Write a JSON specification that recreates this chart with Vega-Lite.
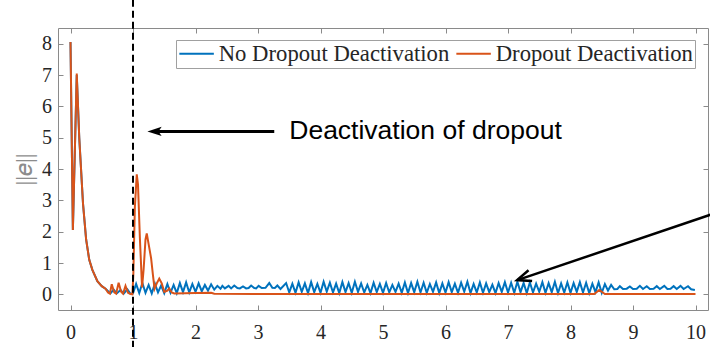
{
  "$schema": "https://vega.github.io/schema/vega-lite/v6.json",
  "width": 650,
  "height": 282,
  "autosize": {"type": "none"},
  "padding": {"left": 58, "top": 28, "right": 2, "bottom": 37},
  "background": "white",
  "config": {
    "view": {"stroke": null},
    "axis": {
      "grid": false,
      "domainColor": "#8a8a8a",
      "tickColor": "#8a8a8a",
      "domainWidth": 1,
      "tickWidth": 1,
      "tickSize": -5,
      "labelFont": "Liberation Serif",
      "labelFontSize": 20,
      "labelColor": "#262626"
    },
    "axisTop": {"labels": false, "title": null},
    "axisRight": {"labels": false, "title": null}
  },
  "datasets": {
    "err": [
      {"t": 0, "v": 8.05, "s": "No Dropout Deactivation"},
      {"t": 0.038, "v": 2.05, "s": "No Dropout Deactivation"},
      {"t": 0.1, "v": 7.0, "s": "No Dropout Deactivation"},
      {"t": 0.14, "v": 5.0, "s": "No Dropout Deactivation"},
      {"t": 0.2, "v": 2.9, "s": "No Dropout Deactivation"},
      {"t": 0.25, "v": 1.75, "s": "No Dropout Deactivation"},
      {"t": 0.3, "v": 1.1, "s": "No Dropout Deactivation"},
      {"t": 0.35, "v": 0.78, "s": "No Dropout Deactivation"},
      {"t": 0.43, "v": 0.42, "s": "No Dropout Deactivation"},
      {"t": 0.5, "v": 0.26, "s": "No Dropout Deactivation"},
      {"t": 0.56, "v": 0.18, "s": "No Dropout Deactivation"},
      {"t": 0.59, "v": 0.12, "s": "No Dropout Deactivation"},
      {"t": 0.64, "v": 0.03, "s": "No Dropout Deactivation"},
      {"t": 0.69, "v": 0.15, "s": "No Dropout Deactivation"},
      {"t": 0.74, "v": 0.03, "s": "No Dropout Deactivation"},
      {"t": 0.8, "v": 0.14, "s": "No Dropout Deactivation"},
      {"t": 0.85, "v": 0.02, "s": "No Dropout Deactivation"},
      {"t": 0.91, "v": 0.16, "s": "No Dropout Deactivation"},
      {"t": 0.96, "v": 0.02, "s": "No Dropout Deactivation"},
      {"t": 1.0, "v": 0.03, "s": "No Dropout Deactivation"},
      {"t": 1.05, "v": 0.33, "s": "No Dropout Deactivation"},
      {"t": 1.1, "v": 0.04, "s": "No Dropout Deactivation"},
      {"t": 1.15, "v": 0.36, "s": "No Dropout Deactivation"},
      {"t": 1.2, "v": 0.05, "s": "No Dropout Deactivation"},
      {"t": 1.25, "v": 0.3, "s": "No Dropout Deactivation"},
      {"t": 1.3, "v": 0.03, "s": "No Dropout Deactivation"},
      {"t": 1.35, "v": 0.34, "s": "No Dropout Deactivation"},
      {"t": 1.4, "v": 0.06, "s": "No Dropout Deactivation"},
      {"t": 1.45, "v": 0.28, "s": "No Dropout Deactivation"},
      {"t": 1.5, "v": 0.04, "s": "No Dropout Deactivation"},
      {"t": 1.55, "v": 0.33, "s": "No Dropout Deactivation"},
      {"t": 1.6, "v": 0.05, "s": "No Dropout Deactivation"},
      {"t": 1.65, "v": 0.3, "s": "No Dropout Deactivation"},
      {"t": 1.7, "v": 0.04, "s": "No Dropout Deactivation"},
      {"t": 1.75, "v": 0.36, "s": "No Dropout Deactivation"},
      {"t": 1.8, "v": 0.07, "s": "No Dropout Deactivation"},
      {"t": 1.85, "v": 0.38, "s": "No Dropout Deactivation"},
      {"t": 1.9, "v": 0.06, "s": "No Dropout Deactivation"},
      {"t": 1.95, "v": 0.33, "s": "No Dropout Deactivation"},
      {"t": 2.0, "v": 0.08, "s": "No Dropout Deactivation"},
      {"t": 2.05, "v": 0.35, "s": "No Dropout Deactivation"},
      {"t": 2.1, "v": 0.1, "s": "No Dropout Deactivation"},
      {"t": 2.15, "v": 0.3, "s": "No Dropout Deactivation"},
      {"t": 2.2, "v": 0.12, "s": "No Dropout Deactivation"},
      {"t": 2.25, "v": 0.32, "s": "No Dropout Deactivation"},
      {"t": 2.3, "v": 0.15, "s": "No Dropout Deactivation"},
      {"t": 2.35, "v": 0.27, "s": "No Dropout Deactivation"},
      {"t": 2.4, "v": 0.18, "s": "No Dropout Deactivation"},
      {"t": 2.43, "v": 0.27, "s": "No Dropout Deactivation"},
      {"t": 2.47, "v": 0.19, "s": "No Dropout Deactivation"},
      {"t": 2.53, "v": 0.27, "s": "No Dropout Deactivation"},
      {"t": 2.57, "v": 0.19, "s": "No Dropout Deactivation"},
      {"t": 2.62, "v": 0.28, "s": "No Dropout Deactivation"},
      {"t": 2.67, "v": 0.2, "s": "No Dropout Deactivation"},
      {"t": 2.71, "v": 0.19, "s": "No Dropout Deactivation"},
      {"t": 2.76, "v": 0.25, "s": "No Dropout Deactivation"},
      {"t": 2.81, "v": 0.19, "s": "No Dropout Deactivation"},
      {"t": 2.85, "v": 0.2, "s": "No Dropout Deactivation"},
      {"t": 2.89, "v": 0.28, "s": "No Dropout Deactivation"},
      {"t": 2.94, "v": 0.2, "s": "No Dropout Deactivation"},
      {"t": 2.97, "v": 0.19, "s": "No Dropout Deactivation"},
      {"t": 3.01, "v": 0.27, "s": "No Dropout Deactivation"},
      {"t": 3.06, "v": 0.2, "s": "No Dropout Deactivation"},
      {"t": 3.12, "v": 0.21, "s": "No Dropout Deactivation"},
      {"t": 3.18, "v": 0.36, "s": "No Dropout Deactivation"},
      {"t": 3.23, "v": 0.21, "s": "No Dropout Deactivation"},
      {"t": 3.27, "v": 0.2, "s": "No Dropout Deactivation"},
      {"t": 3.31, "v": 0.28, "s": "No Dropout Deactivation"},
      {"t": 3.36, "v": 0.17, "s": "No Dropout Deactivation"},
      {"t": 3.45, "v": 0.36, "s": "No Dropout Deactivation"},
      {"t": 3.5, "v": 0.06, "s": "No Dropout Deactivation"},
      {"t": 3.55, "v": 0.34, "s": "No Dropout Deactivation"},
      {"t": 3.6, "v": 0.05, "s": "No Dropout Deactivation"},
      {"t": 3.65, "v": 0.38, "s": "No Dropout Deactivation"},
      {"t": 3.7, "v": 0.08, "s": "No Dropout Deactivation"},
      {"t": 3.75, "v": 0.35, "s": "No Dropout Deactivation"},
      {"t": 3.8, "v": 0.04, "s": "No Dropout Deactivation"},
      {"t": 3.85, "v": 0.39, "s": "No Dropout Deactivation"},
      {"t": 3.9, "v": 0.07, "s": "No Dropout Deactivation"},
      {"t": 3.95, "v": 0.33, "s": "No Dropout Deactivation"},
      {"t": 4.0, "v": 0.05, "s": "No Dropout Deactivation"},
      {"t": 4.05, "v": 0.4, "s": "No Dropout Deactivation"},
      {"t": 4.1, "v": 0.09, "s": "No Dropout Deactivation"},
      {"t": 4.15, "v": 0.37, "s": "No Dropout Deactivation"},
      {"t": 4.2, "v": 0.06, "s": "No Dropout Deactivation"},
      {"t": 4.25, "v": 0.34, "s": "No Dropout Deactivation"},
      {"t": 4.3, "v": 0.04, "s": "No Dropout Deactivation"},
      {"t": 4.35, "v": 0.39, "s": "No Dropout Deactivation"},
      {"t": 4.4, "v": 0.07, "s": "No Dropout Deactivation"},
      {"t": 4.45, "v": 0.36, "s": "No Dropout Deactivation"},
      {"t": 4.5, "v": 0.05, "s": "No Dropout Deactivation"},
      {"t": 4.55, "v": 0.4, "s": "No Dropout Deactivation"},
      {"t": 4.6, "v": 0.08, "s": "No Dropout Deactivation"},
      {"t": 4.65, "v": 0.35, "s": "No Dropout Deactivation"},
      {"t": 4.7, "v": 0.06, "s": "No Dropout Deactivation"},
      {"t": 4.75, "v": 0.3, "s": "No Dropout Deactivation"},
      {"t": 4.8, "v": 0.04, "s": "No Dropout Deactivation"},
      {"t": 4.85, "v": 0.37, "s": "No Dropout Deactivation"},
      {"t": 4.9, "v": 0.07, "s": "No Dropout Deactivation"},
      {"t": 4.95, "v": 0.33, "s": "No Dropout Deactivation"},
      {"t": 5.0, "v": 0.05, "s": "No Dropout Deactivation"},
      {"t": 5.05, "v": 0.36, "s": "No Dropout Deactivation"},
      {"t": 5.1, "v": 0.06, "s": "No Dropout Deactivation"},
      {"t": 5.15, "v": 0.3, "s": "No Dropout Deactivation"},
      {"t": 5.2, "v": 0.08, "s": "No Dropout Deactivation"},
      {"t": 5.25, "v": 0.34, "s": "No Dropout Deactivation"},
      {"t": 5.3, "v": 0.05, "s": "No Dropout Deactivation"},
      {"t": 5.35, "v": 0.38, "s": "No Dropout Deactivation"},
      {"t": 5.4, "v": 0.04, "s": "No Dropout Deactivation"},
      {"t": 5.45, "v": 0.36, "s": "No Dropout Deactivation"},
      {"t": 5.5, "v": 0.07, "s": "No Dropout Deactivation"},
      {"t": 5.55, "v": 0.4, "s": "No Dropout Deactivation"},
      {"t": 5.6, "v": 0.06, "s": "No Dropout Deactivation"},
      {"t": 5.65, "v": 0.37, "s": "No Dropout Deactivation"},
      {"t": 5.7, "v": 0.05, "s": "No Dropout Deactivation"},
      {"t": 5.75, "v": 0.33, "s": "No Dropout Deactivation"},
      {"t": 5.8, "v": 0.08, "s": "No Dropout Deactivation"},
      {"t": 5.85, "v": 0.38, "s": "No Dropout Deactivation"},
      {"t": 5.9, "v": 0.04, "s": "No Dropout Deactivation"},
      {"t": 5.95, "v": 0.35, "s": "No Dropout Deactivation"},
      {"t": 6.0, "v": 0.06, "s": "No Dropout Deactivation"},
      {"t": 6.05, "v": 0.39, "s": "No Dropout Deactivation"},
      {"t": 6.1, "v": 0.07, "s": "No Dropout Deactivation"},
      {"t": 6.15, "v": 0.34, "s": "No Dropout Deactivation"},
      {"t": 6.2, "v": 0.05, "s": "No Dropout Deactivation"},
      {"t": 6.25, "v": 0.37, "s": "No Dropout Deactivation"},
      {"t": 6.3, "v": 0.09, "s": "No Dropout Deactivation"},
      {"t": 6.35, "v": 0.4, "s": "No Dropout Deactivation"},
      {"t": 6.4, "v": 0.04, "s": "No Dropout Deactivation"},
      {"t": 6.45, "v": 0.33, "s": "No Dropout Deactivation"},
      {"t": 6.5, "v": 0.06, "s": "No Dropout Deactivation"},
      {"t": 6.55, "v": 0.38, "s": "No Dropout Deactivation"},
      {"t": 6.6, "v": 0.05, "s": "No Dropout Deactivation"},
      {"t": 6.65, "v": 0.35, "s": "No Dropout Deactivation"},
      {"t": 6.7, "v": 0.07, "s": "No Dropout Deactivation"},
      {"t": 6.75, "v": 0.31, "s": "No Dropout Deactivation"},
      {"t": 6.8, "v": 0.04, "s": "No Dropout Deactivation"},
      {"t": 6.85, "v": 0.36, "s": "No Dropout Deactivation"},
      {"t": 6.9, "v": 0.08, "s": "No Dropout Deactivation"},
      {"t": 6.95, "v": 0.39, "s": "No Dropout Deactivation"},
      {"t": 7.0, "v": 0.06, "s": "No Dropout Deactivation"},
      {"t": 7.05, "v": 0.37, "s": "No Dropout Deactivation"},
      {"t": 7.1, "v": 0.05, "s": "No Dropout Deactivation"},
      {"t": 7.15, "v": 0.4, "s": "No Dropout Deactivation"},
      {"t": 7.2, "v": 0.07, "s": "No Dropout Deactivation"},
      {"t": 7.25, "v": 0.36, "s": "No Dropout Deactivation"},
      {"t": 7.3, "v": 0.04, "s": "No Dropout Deactivation"},
      {"t": 7.35, "v": 0.38, "s": "No Dropout Deactivation"},
      {"t": 7.4, "v": 0.06, "s": "No Dropout Deactivation"},
      {"t": 7.45, "v": 0.34, "s": "No Dropout Deactivation"},
      {"t": 7.5, "v": 0.08, "s": "No Dropout Deactivation"},
      {"t": 7.55, "v": 0.39, "s": "No Dropout Deactivation"},
      {"t": 7.6, "v": 0.05, "s": "No Dropout Deactivation"},
      {"t": 7.65, "v": 0.36, "s": "No Dropout Deactivation"},
      {"t": 7.7, "v": 0.07, "s": "No Dropout Deactivation"},
      {"t": 7.75, "v": 0.4, "s": "No Dropout Deactivation"},
      {"t": 7.8, "v": 0.04, "s": "No Dropout Deactivation"},
      {"t": 7.85, "v": 0.35, "s": "No Dropout Deactivation"},
      {"t": 7.9, "v": 0.06, "s": "No Dropout Deactivation"},
      {"t": 7.95, "v": 0.38, "s": "No Dropout Deactivation"},
      {"t": 8.0, "v": 0.05, "s": "No Dropout Deactivation"},
      {"t": 8.05, "v": 0.36, "s": "No Dropout Deactivation"},
      {"t": 8.1, "v": 0.08, "s": "No Dropout Deactivation"},
      {"t": 8.15, "v": 0.39, "s": "No Dropout Deactivation"},
      {"t": 8.2, "v": 0.06, "s": "No Dropout Deactivation"},
      {"t": 8.25, "v": 0.37, "s": "No Dropout Deactivation"},
      {"t": 8.3, "v": 0.04, "s": "No Dropout Deactivation"},
      {"t": 8.35, "v": 0.34, "s": "No Dropout Deactivation"},
      {"t": 8.4, "v": 0.07, "s": "No Dropout Deactivation"},
      {"t": 8.45, "v": 0.38, "s": "No Dropout Deactivation"},
      {"t": 8.5, "v": 0.05, "s": "No Dropout Deactivation"},
      {"t": 8.55, "v": 0.33, "s": "No Dropout Deactivation"},
      {"t": 8.6, "v": 0.12, "s": "No Dropout Deactivation"},
      {"t": 8.65, "v": 0.3, "s": "No Dropout Deactivation"},
      {"t": 8.7, "v": 0.16, "s": "No Dropout Deactivation"},
      {"t": 8.75, "v": 0.17, "s": "No Dropout Deactivation"},
      {"t": 8.79, "v": 0.26, "s": "No Dropout Deactivation"},
      {"t": 8.84, "v": 0.17, "s": "No Dropout Deactivation"},
      {"t": 8.9, "v": 0.18, "s": "No Dropout Deactivation"},
      {"t": 8.95, "v": 0.25, "s": "No Dropout Deactivation"},
      {"t": 9.0, "v": 0.17, "s": "No Dropout Deactivation"},
      {"t": 9.06, "v": 0.18, "s": "No Dropout Deactivation"},
      {"t": 9.11, "v": 0.27, "s": "No Dropout Deactivation"},
      {"t": 9.16, "v": 0.17, "s": "No Dropout Deactivation"},
      {"t": 9.22, "v": 0.26, "s": "No Dropout Deactivation"},
      {"t": 9.27, "v": 0.17, "s": "No Dropout Deactivation"},
      {"t": 9.33, "v": 0.18, "s": "No Dropout Deactivation"},
      {"t": 9.38, "v": 0.26, "s": "No Dropout Deactivation"},
      {"t": 9.43, "v": 0.17, "s": "No Dropout Deactivation"},
      {"t": 9.5, "v": 0.27, "s": "No Dropout Deactivation"},
      {"t": 9.55, "v": 0.17, "s": "No Dropout Deactivation"},
      {"t": 9.6, "v": 0.18, "s": "No Dropout Deactivation"},
      {"t": 9.65, "v": 0.26, "s": "No Dropout Deactivation"},
      {"t": 9.7, "v": 0.17, "s": "No Dropout Deactivation"},
      {"t": 9.76, "v": 0.27, "s": "No Dropout Deactivation"},
      {"t": 9.81, "v": 0.17, "s": "No Dropout Deactivation"},
      {"t": 9.88, "v": 0.26, "s": "No Dropout Deactivation"},
      {"t": 9.93, "v": 0.16, "s": "No Dropout Deactivation"},
      {"t": 9.99, "v": 0.14, "s": "No Dropout Deactivation"},
      {"t": 0, "v": 8.05, "s": "Dropout Deactivation"},
      {"t": 0.038, "v": 2.05, "s": "Dropout Deactivation"},
      {"t": 0.1, "v": 7.05, "s": "Dropout Deactivation"},
      {"t": 0.14, "v": 5.0, "s": "Dropout Deactivation"},
      {"t": 0.2, "v": 2.9, "s": "Dropout Deactivation"},
      {"t": 0.25, "v": 1.75, "s": "Dropout Deactivation"},
      {"t": 0.3, "v": 1.1, "s": "Dropout Deactivation"},
      {"t": 0.35, "v": 0.78, "s": "Dropout Deactivation"},
      {"t": 0.43, "v": 0.42, "s": "Dropout Deactivation"},
      {"t": 0.5, "v": 0.26, "s": "Dropout Deactivation"},
      {"t": 0.56, "v": 0.18, "s": "Dropout Deactivation"},
      {"t": 0.6, "v": 0.06, "s": "Dropout Deactivation"},
      {"t": 0.63, "v": 0.02, "s": "Dropout Deactivation"},
      {"t": 0.66, "v": 0.32, "s": "Dropout Deactivation"},
      {"t": 0.7, "v": 0.06, "s": "Dropout Deactivation"},
      {"t": 0.73, "v": 0.02, "s": "Dropout Deactivation"},
      {"t": 0.77, "v": 0.37, "s": "Dropout Deactivation"},
      {"t": 0.81, "v": 0.08, "s": "Dropout Deactivation"},
      {"t": 0.84, "v": 0.02, "s": "Dropout Deactivation"},
      {"t": 0.88, "v": 0.27, "s": "Dropout Deactivation"},
      {"t": 0.92, "v": 0.05, "s": "Dropout Deactivation"},
      {"t": 0.96, "v": 0.01, "s": "Dropout Deactivation"},
      {"t": 0.99, "v": 0.0, "s": "Dropout Deactivation"},
      {"t": 1.005, "v": 0.6, "s": "Dropout Deactivation"},
      {"t": 1.03, "v": 2.8, "s": "Dropout Deactivation"},
      {"t": 1.06, "v": 3.83, "s": "Dropout Deactivation"},
      {"t": 1.08, "v": 3.5, "s": "Dropout Deactivation"},
      {"t": 1.11, "v": 1.8, "s": "Dropout Deactivation"},
      {"t": 1.145, "v": 0.22, "s": "Dropout Deactivation"},
      {"t": 1.17, "v": 0.8, "s": "Dropout Deactivation"},
      {"t": 1.2, "v": 1.75, "s": "Dropout Deactivation"},
      {"t": 1.22, "v": 1.94, "s": "Dropout Deactivation"},
      {"t": 1.25, "v": 1.6, "s": "Dropout Deactivation"},
      {"t": 1.29, "v": 1.15, "s": "Dropout Deactivation"},
      {"t": 1.32, "v": 0.6, "s": "Dropout Deactivation"},
      {"t": 1.345, "v": 0.18, "s": "Dropout Deactivation"},
      {"t": 1.38, "v": 0.35, "s": "Dropout Deactivation"},
      {"t": 1.42, "v": 0.5, "s": "Dropout Deactivation"},
      {"t": 1.46, "v": 0.35, "s": "Dropout Deactivation"},
      {"t": 1.5, "v": 0.08, "s": "Dropout Deactivation"},
      {"t": 1.55, "v": 0.12, "s": "Dropout Deactivation"},
      {"t": 1.58, "v": 0.19, "s": "Dropout Deactivation"},
      {"t": 1.62, "v": 0.06, "s": "Dropout Deactivation"},
      {"t": 1.66, "v": 0.03, "s": "Dropout Deactivation"},
      {"t": 2.0, "v": 0.04, "s": "Dropout Deactivation"},
      {"t": 2.25, "v": 0.05, "s": "Dropout Deactivation"},
      {"t": 2.3, "v": 0.02, "s": "Dropout Deactivation"},
      {"t": 3.0, "v": 0.01, "s": "Dropout Deactivation"},
      {"t": 4.5, "v": 0.01, "s": "Dropout Deactivation"},
      {"t": 6.0, "v": 0.01, "s": "Dropout Deactivation"},
      {"t": 8.38, "v": 0.01, "s": "Dropout Deactivation"},
      {"t": 8.46, "v": 0.14, "s": "Dropout Deactivation"},
      {"t": 8.55, "v": 0.01, "s": "Dropout Deactivation"},
      {"t": 10.0, "v": 0.01, "s": "Dropout Deactivation"}
    ]
  },
  "layer": [
    {
      "data": {"name": "err"},
      "mark": {"type": "line", "strokeWidth": 2, "clip": true},
      "encoding": {
        "x": {
          "field": "t", "type": "quantitative",
          "scale": {"domain": [-0.2, 10.2], "nice": false, "zero": false},
          "axis": {
            "orient": "bottom", "values": [0, 1, 2, 3, 4, 5, 6, 7, 8, 9, 10], "title": null,
            "labelPadding": 17.5, "labelFont": "Liberation Serif", "labelFontSize": 20, "labelColor": "#262626"
          }
        },
        "y": {
          "field": "v", "type": "quantitative",
          "scale": {"domain": [-0.5, 8.5], "nice": false, "zero": false},
          "axis": {
            "orient": "left", "values": [0, 1, 2, 3, 4, 5, 6, 7, 8], "labelPadding": 11.6,
            "labelFont": "Liberation Serif", "labelFontSize": 20, "labelColor": "#262626",
            "title": "||𝑒||", "titleFont": "Liberation Serif", "titleFontSize": 24,
            "titleFontWeight": "normal", "titleColor": "#8c8c8c", "titlePadding": 5
          }
        },
        "color": {
          "field": "s", "type": "nominal",
          "scale": {"domain": ["No Dropout Deactivation", "Dropout Deactivation"], "range": ["#0072BD", "#D95319"]},
          "legend": {
            "title": null, "orient": "none", "legendX": 118, "legendY": 12,
            "direction": "horizontal", "symbolType": "M-1,0L2.45,0", "symbolSize": 400,
            "symbolStrokeWidth": 2, "labelFont": "Liberation Serif", "labelFontSize": 22.7,
            "labelColor": "#262626", "labelOffset": 18, "labelLimit": 0, "columnPadding": 2, "padding": 2,
            "strokeColor": "#a0a0a0", "fillColor": "white", "cornerRadius": 0
          }
        }
      }
    },
    {
      "data": {"values": [{}]},
      "layer": [
        {
          "mark": {"type": "rule", "color": "black", "strokeWidth": 2, "strokeDash": [7, 4], "clip": false},
          "encoding": {
            "x": {"datum": 1, "type": "quantitative", "scale": {"domain": [-0.2, 10.2], "nice": false, "zero": false}, "axis": {"orient": "top", "values": [0, 1, 2, 3, 4, 5, 6, 7, 8, 9, 10], "title": null, "labels": false}},
            "y": {"datum": 9.4, "type": "quantitative", "scale": {"domain": [-0.5, 8.5], "nice": false, "zero": false}, "axis": {"orient": "right", "values": [0, 1, 2, 3, 4, 5, 6, 7, 8], "title": null, "labels": false}},
            "y2": {"datum": -1.7}
          }
        },
        {
          "mark": {"type": "rule", "color": "black", "strokeWidth": 3, "clip": false},
          "encoding": {
            "x": {"datum": 1.32, "type": "quantitative"},
            "x2": {"datum": 3.26},
            "y": {"datum": 5.2, "type": "quantitative"},
            "y2": {"datum": 5.2}
          }
        },
        {
          "mark": {"type": "point", "shape": "M0,0L2.2,-0.72L1.7,0L2.2,0.72Z", "size": 169, "filled": true, "color": "black", "opacity": 1, "strokeWidth": 0, "clip": false},
          "encoding": {
            "x": {"datum": 1.23, "type": "quantitative"},
            "y": {"datum": 5.2, "type": "quantitative"}
          }
        },
        {
          "mark": {"type": "text", "text": "Deactivation of dropout", "font": "Liberation Sans", "fontSize": 26.5, "color": "black", "align": "left", "baseline": "alphabetic", "clip": false},
          "encoding": {
            "x": {"datum": 3.5, "type": "quantitative"},
            "y": {"datum": 4.95, "type": "quantitative"}
          }
        },
        {
          "mark": {"type": "rule", "color": "black", "strokeWidth": 2.5, "clip": false},
          "encoding": {
            "x": {"datum": 7.16, "type": "quantitative"},
            "x2": {"datum": 10.25},
            "y": {"datum": 0.46, "type": "quantitative"},
            "y2": {"datum": 2.55}
          }
        },
        {
          "mark": {"type": "point", "shape": "M2,-0.8L0,0L2,0.8", "size": 196, "filled": false, "color": "black", "opacity": 1, "strokeWidth": 2.5, "angle": 341.3, "clip": false},
          "encoding": {
            "x": {"datum": 7.145, "type": "quantitative"},
            "y": {"datum": 0.455, "type": "quantitative"}
          }
        }
      ]
    }
  ],
  "resolve": {"axis": {"x": "independent", "y": "independent"}}
}
